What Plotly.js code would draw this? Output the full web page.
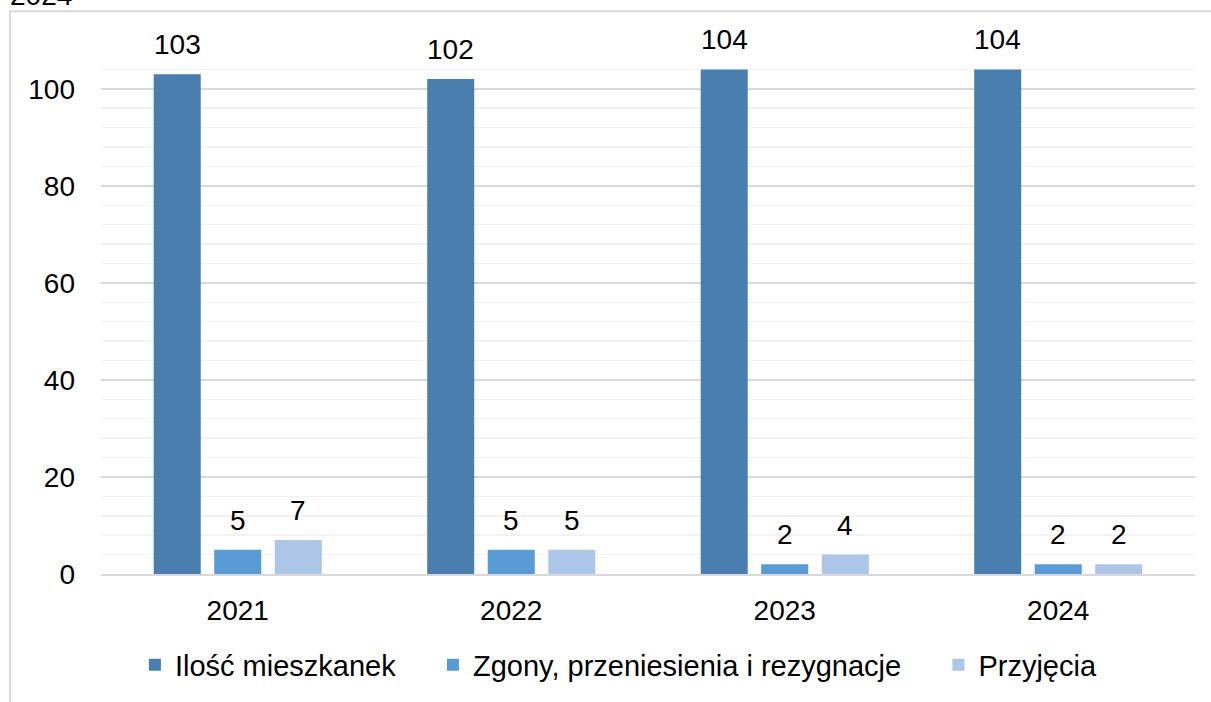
<!DOCTYPE html>
<html><head><meta charset="utf-8">
<script src="https://cdn.plot.ly/plotly-3.0.1.min.js"></script>
<style>html,body{margin:0;padding:0;background:#fff;}#chart{width:1211px;height:702px;}</style>
</head><body><div id="chart"></div>
<script>
const categories = ['2021', '2022', '2023', '2024'];
const seriesNames = ['Ilość mieszkanek', 'Zgony, przeniesienia i rezygnacje', 'Przyjęcia'];
const residents = [103, 102, 104, 104];
const departures = [5, 5, 2, 2];
const admissions = [7, 5, 4, 2];
const colors = ['#4a7eae', '#5a9bd5', '#adc5e6'];
const yTicks = [0, 20, 40, 60, 80, 100];
const clippedTitle = '2024';

const W = 1211, H = 702;
const M = {l: 101, r: 16, t: 50, b: 126};
const bargap = 0.336, bargroupgap = 0.223;
const font = {family: 'Arial, Liberation Sans, sans-serif', size: 28, color: '#000'};
const legendFont = {family: 'Arial, Liberation Sans, sans-serif', size: 29, color: '#000'};
const legendPad = '\u00a0\u00a0\u00a0\u00a0';

const series = [residents, departures, admissions];
const data = series.map((vals, i) => ({
  type: 'bar', x: categories, y: vals,
  name: seriesNames[i] + (i < series.length - 1 ? legendPad : ''),
  marker: {color: colors[i]}, hoverinfo: 'none'
}));

// data labels: pixel offset of each series inside its category group
const catW = (W - M.l - M.r) / categories.length;
const slotW = catW * (1 - bargap) / series.length;
const annotations = [];
series.forEach((vals, i) => {
  vals.forEach((v, j) => {
    annotations.push({x: j, y: v, xref: 'x', yref: 'y', text: String(v),
      showarrow: false, yanchor: 'bottom', xanchor: 'center',
      xshift: (i - (series.length - 1) / 2) * slotW, yshift: 12, font: font});
  });
});
annotations.push({text: clippedTitle, xref: 'paper', yref: 'paper', x: -0.085, y: 1.0704,
  xanchor: 'left', yanchor: 'bottom', showarrow: false, font: font});

const layout = {
  width: W, height: H, margin: M,
  paper_bgcolor: '#fff', plot_bgcolor: '#fff',
  font: font,
  barmode: 'group', bargap: bargap, bargroupgap: bargroupgap,
  showlegend: true,
  legend: {orientation: 'h', x: 0.031, xanchor: 'left', y: -0.125, yanchor: 'top', font: legendFont, itemwidth: 30},
  xaxis: {type: 'category', range: [-0.5, categories.length - 0.5], autorange: false, tickfont: font,
          showgrid: false, zeroline: false, showline: true,
          linecolor: '#d9d9d9', linewidth: 2, ticks: '', ticklabelstandoff: 10},
  yaxis: {range: [0, 108], autorange: false, tickvals: yTicks, tickfont: font, showgrid: true, gridcolor: '#d9d9d9', gridwidth: 1.5,
          zeroline: false, showline: false, ticks: '', ticklabelstandoff: 25,
          minor: {dtick: 4, tick0: 0, showgrid: true, gridcolor: '#f2f2f2', gridwidth: 1.5}},
  shapes: [{type: 'path', xref: 'paper', yref: 'paper',
            path: 'M -0.0832 -0.5 L -0.0832 1.0741 L 1.1 1.0741',
            line: {color: '#d9d9d9', width: 2}}],
  annotations: annotations
};
Plotly.newPlot('chart', data, layout, {displayModeBar: false, staticPlot: true});
</script></body></html>
